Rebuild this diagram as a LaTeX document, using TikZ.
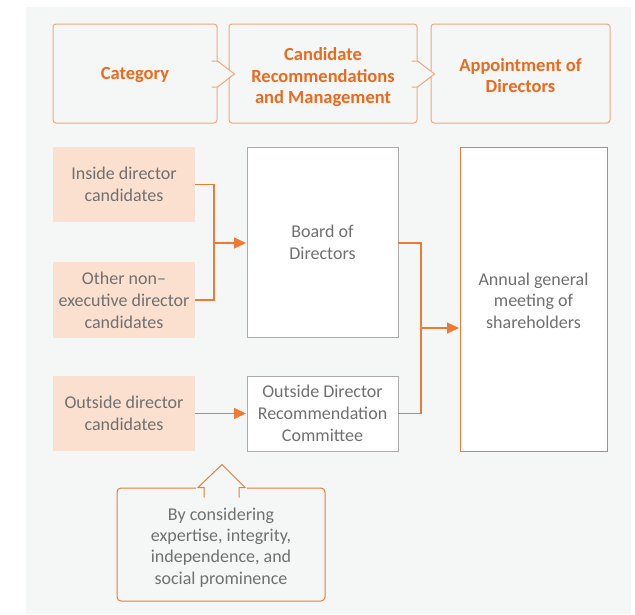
\documentclass[tikz,border=0pt]{standalone}
\usepackage{fontspec}
\setmainfont{Carlito}
\usetikzlibrary{arrows.meta,calc}
\definecolor{bgc}{HTML}{F5F7F7}
\definecolor{hdrline}{HTML}{F3A57C}
\definecolor{hdrtext}{HTML}{EC6A1E}
\definecolor{orng}{HTML}{EE7A36}
\definecolor{peach}{HTML}{FBE0D0}
\definecolor{txtgray}{HTML}{707070}
\definecolor{boxgray}{HTML}{ABABAB}
\tikzset{
  hbox/.style={draw=hdrline, line width=1pt, rounded corners=3pt, fill=bgc, inner sep=0pt},
  hlabel/.style={align=center, text=hdrtext, font=\fontsize{18.5}{21.5}\selectfont\bfseries,
    inner sep=0pt, draw=none, fill=none, rounded corners=0pt},
  candbox/.style={fill=peach, align=center, text=txtgray, minimum width=142pt,
    font=\fontsize{18}{22}\selectfont, inner sep=0pt},
  whitebox/.style={fill=white, draw=boxgray, line width=0.9pt, align=center, text=txtgray,
    font=\fontsize{18}{22}\selectfont, inner sep=0pt},
  orangebox/.style={fill=white, draw=orng, line width=1pt, inner sep=0pt},
  nlabel/.style={align=center, text=txtgray, font=\fontsize{18}{21.3}\selectfont,
    inner sep=0pt, draw=none, fill=none, rounded corners=0pt},
  notebox/.style={fill=bgc, draw=orng, line width=1pt, rounded corners=4pt, inner sep=0pt},
  conn/.style={draw=orng, line width=1.1pt},
  connarrow/.style={conn, -{Triangle[length=12pt,width=11pt]}, shorten >=0.5pt},
  chev/.style={fill=bgc, draw=hdrline, line width=1pt, line join=miter},
  notearrow/.style={fill=bgc, draw=orng, line width=1pt}
}
\begin{document}
\begin{tikzpicture}[x=1pt,y=-1pt]
\useasboundingbox (0,0) rectangle (635,614);
\fill[bgc] (26,7) rectangle (631,614);

% header
\node[hbox, minimum width=164pt, minimum height=99pt,
  label={[hlabel, yshift=-1.5pt]center:Category}] (cat) at (135,73.5) {};
\node[hbox, minimum width=188pt, minimum height=99pt,
  label={[hlabel, yshift=-4pt]center:Candidate\\Recommendations\\and Management}] (rec) at (323,73.5) {};
\node[hbox, minimum width=179pt, minimum height=99pt,
  label={[hlabel, yshift=-2pt]center:Appointment of\\Directors}] (app) at (520.5,73.5) {};

\filldraw[chev] ($(cat.east)+(-6,-12.5)$) -- ($(cat.east)+(0,-12.5)$) -- ($(cat.east)+(17,0.5)$)
  -- ($(cat.east)+(0,13.5)$) -- ($(cat.east)+(-6,13.5)$);
\filldraw[chev] ($(rec.east)+(-6,-12.5)$) -- ($(rec.east)+(0,-12.5)$) -- ($(rec.east)+(17,0.5)$)
  -- ($(rec.east)+(0,13.5)$) -- ($(rec.east)+(-6,13.5)$);

% body
\node[candbox, minimum height=75pt] (inside) at (124,184.5) {Inside director\\candidates};
\node[candbox, minimum height=76pt] (other) at (124,300) {Other non–\\executive director\\candidates};
\node[candbox, minimum height=75pt] (outside) at (124,413.5) {Outside director\\candidates};

\node[whitebox, minimum width=151pt, minimum height=190pt] (board) at (322.5,242) {Board of\\Directors};
\node[whitebox, minimum width=151pt, minimum height=75pt] (comm) at (322.5,413.5) {Outside Director\\Recommendation\\Committee};

\node[orangebox, minimum width=147pt, minimum height=304pt,
  label={[nlabel, font=\fontsize{18}{21.5}\selectfont, yshift=-1.5pt]center:Annual general\\meeting of\\shareholders}]
  (agm) at (533.5,299) {};

\node[notebox, minimum width=208pt, minimum height=113pt,
  label={[nlabel, yshift=-3pt]center:By considering\\expertise, integrity,\\independence, and\\social prominence}]
  (note) at (221,544.5) {};

% connectors
\coordinate (j1) at (214,243);
\draw[conn] (inside.east) -| (j1);
\draw[conn] (other.east) -| (j1);
\draw[connarrow] (j1) -- (board.west |- j1);

\draw[connarrow] (outside.east) -- (comm.west);

\coordinate (j2) at (421,328);
\draw[conn] (board.east |- 0,243) -| (j2);
\draw[conn] (comm.east) -| (j2);
\draw[connarrow] (j2) -- (agm.west |- j2);

% arrow on the note box
\fill[bgc] ($(note.north)+(-25,-1.5)$) rectangle ($(note.north)+(26,1.5)$);
\filldraw[notearrow] ($(note.north)+(-17,10)$) -- ($(note.north)+(-17,0)$) -- ($(note.north)+(-23,0)$)
  -- ($(note.north)+(1,-23)$) -- ($(note.north)+(24,0)$) -- ($(note.north)+(18,0)$)
  -- ($(note.north)+(18,10)$);
\end{tikzpicture}
\end{document}
